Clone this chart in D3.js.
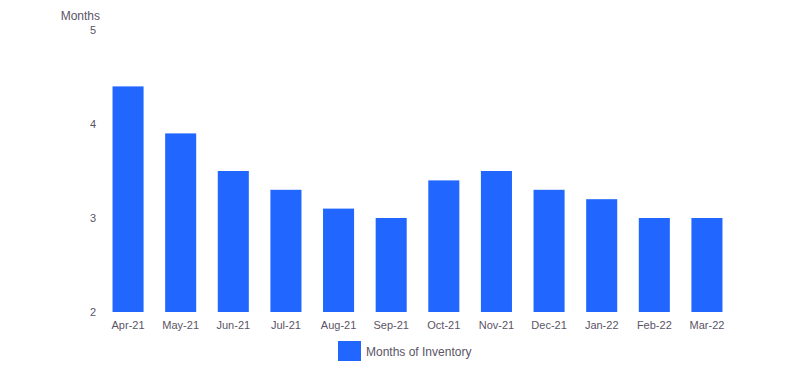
<!DOCTYPE html>
<html>
<head>
<meta charset="utf-8">
<script src="https://cdn.jsdelivr.net/npm/d3@7.9.0/dist/d3.min.js"></script>
<style>
  body { margin: 0; background: #fff; }
  text { font-family: "Liberation Sans", Arial, sans-serif; fill: #5b5466; }
</style>
</head>
<body>
<div id="chart"></div>
<script>
const months = ['Apr-21','May-21','Jun-21','Jul-21','Aug-21','Sep-21','Oct-21','Nov-21','Dec-21','Jan-22','Feb-22','Mar-22'];
const inventory = [4.4, 3.9, 3.5, 3.3, 3.1, 3.0, 3.4, 3.5, 3.3, 3.2, 3.0, 3.0];
const yTicks = [2, 3, 4, 5];
const seriesName = 'Months of Inventory';

const width = 808, height = 384;
const barColor = '#2166ff';

const svg = d3.select('#chart').append('svg')
  .attr('width', width).attr('height', height);

const x = d3.scaleBand().domain(months).range([102, 733]).paddingInner(0.41).paddingOuter(0.2);
const y = d3.scaleLinear().domain([2, 5]).range([312, 30]);

// bars
svg.append('g').selectAll('rect')
  .data(months.map((m, i) => ({ m, v: inventory[i] })))
  .join('rect')
  .attr('x', d => x(d.m))
  .attr('width', x.bandwidth())
  .attr('y', d => y(d.v))
  .attr('height', d => y(2) - y(d.v))
  .attr('fill', barColor);

// y axis labels
const yAxis = svg.append('g').attr('transform', 'translate(96,0)')
  .call(d3.axisLeft(y).tickValues(yTicks).tickFormat(d3.format('d')).tickSize(0).tickPadding(0));
yAxis.select('.domain').remove();
yAxis.selectAll('text').attr('font-size', 11).style('font-family', null);

svg.append('text')
  .attr('x', 100).attr('y', 20)
  .attr('text-anchor', 'end')
  .attr('font-size', 12)
  .text('Months');

// x axis labels
const xAxis = svg.append('g').attr('transform', 'translate(0,312)')
  .call(d3.axisBottom(x).tickSize(0).tickPadding(9));
xAxis.select('.domain').remove();
xAxis.selectAll('text').attr('font-size', 11).style('font-family', null);

// legend
const legend = svg.append('g').attr('transform', 'translate(338,341)');
legend.append('rect').attr('width', 23).attr('height', 20).attr('fill', barColor);
legend.append('text').attr('x', 28).attr('y', 14.5).attr('font-size', 12).text(seriesName);
</script>
</body>
</html>
